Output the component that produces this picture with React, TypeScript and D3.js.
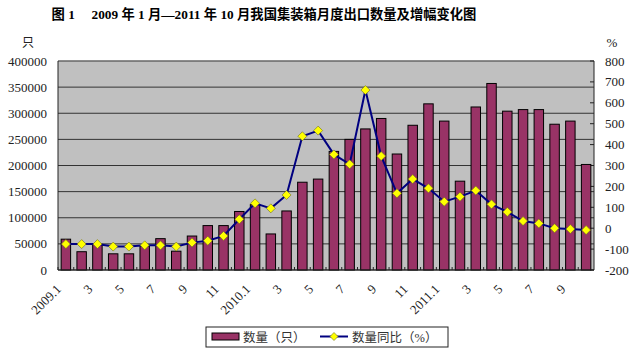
import React from "react";
import * as d3 from "d3";

const months: string[] = [
  "2009.1","2009.2","2009.3","2009.4","2009.5","2009.6","2009.7","2009.8","2009.9","2009.10","2009.11","2009.12",
  "2010.1","2010.2","2010.3","2010.4","2010.5","2010.6","2010.7","2010.8","2010.9","2010.10","2010.11","2010.12",
  "2011.1","2011.2","2011.3","2011.4","2011.5","2011.6","2011.7","2011.8","2011.9","2011.10",
];
const tickLabels: string[] = [
  "2009.1","","3","","5","","7","","9","","11","",
  "2010.1","","3","","5","","7","","9","","11","",
  "2011.1","","3","","5","","7","","9","",
];
const quantity: number[] = [
  59000, 35000, 49000, 31000, 31000, 46000, 60000, 36000, 65000, 85000, 85000, 112000,
  125000, 69000, 113000, 168000, 174000, 227000, 250000, 270000, 290000, 222000, 277000, 318000,
  285000, 170000, 312000, 357000, 304000, 307000, 307000, 279000, 285000, 202000,
];
const growth: number[] = [
  -76, -76, -76, -88, -88, -82, -82, -88, -69, -60, -37, 43,
  119, 95, 159, 440, 467, 353, 306, 661, 345, 167, 235, 191,
  127, 151, 180, 114, 78, 34, 23, 0, -4, -9,
];
const leftTicks: number[] = [0, 50000, 100000, 150000, 200000, 250000, 300000, 350000, 400000];
const rightTicks: number[] = [-200, -100, 0, 100, 200, 300, 400, 500, 600, 700, 800];

const W = 638, H = 353;
const L = 58, R = 594, T = 61, B = 270;
const serif = "'Liberation Serif', 'Times New Roman', 'Noto Sans CJK SC', serif";
const cjk = "'Liberation Serif', 'Noto Sans CJK SC', sans-serif";

export default function App() {
  const x = d3.scaleBand<string>().domain(months).range([L, R]).paddingInner(0.4).paddingOuter(0.2);
  const yL = d3.scaleLinear().domain([0, 400000]).range([B, T]);
  const yR = d3.scaleLinear().domain([-200, 800]).range([B, T]);
  const cx = (m: string) => (x(m) as number) + x.bandwidth() / 2;
  const step = x.step();
  const line = d3.line<number>().x((_, i) => cx(months[i])).y((d) => yR(d));
  const diamond = (px: number, py: number, r: number) =>
    `M${px},${py - r}L${px + r},${py}L${px},${py + r}L${px - r},${py}Z`;

  return (
    <svg width={W} height={H} style={{ position: "absolute", left: 0, top: 0, background: "#fff" }}>
      <text x={264} y={19} textAnchor="middle" fontFamily={cjk} fontWeight="bold" fontSize={13.3} fill="#000">
        图 1{"\u00a0\u00a0\u00a0\u00a0\u00a0"}2009 年 1 月—2011 年 10 月我国集装箱月度出口数量及增幅变化图
      </text>
      <text x={28} y={47} textAnchor="middle" fontFamily={cjk} fontSize={12} fill="#222">只</text>
      <text x={612} y={47} textAnchor="middle" fontFamily={serif} fontSize={13} fill="#222">%</text>

      <rect x={L} y={T} width={R - L} height={B - T} fill="#c0c0c0" />
      {leftTicks.map((t) => (
        <line key={"g" + t} x1={L} x2={R} y1={yL(t)} y2={yL(t)} stroke="#333" strokeWidth={1} />
      ))}
      <line x1={L} x2={R} y1={T} y2={T} stroke="#808080" strokeWidth={1} />
      {rightTicks.map((t) => (
        <line key={"rt" + t} x1={R - 4} x2={R} y1={yR(t)} y2={yR(t)} stroke="#222" strokeWidth={1} />
      ))}
      {months.map((m, i) => (
        <line key={"xt" + m} x1={L + i * step} x2={L + i * step} y1={B} y2={B - 3} stroke="#222" strokeWidth={1} />
      ))}

      {quantity.map((v, i) => (
        <rect
          key={"b" + i}
          x={x(months[i]) as number}
          y={yL(v)}
          width={x.bandwidth()}
          height={B - yL(v)}
          fill="#993366"
          stroke="#000"
          strokeWidth={1}
        />
      ))}

      <line x1={L} x2={L} y1={T} y2={B} stroke="#222" strokeWidth={1} />
      <line x1={R} x2={R} y1={T} y2={B} stroke="#222" strokeWidth={1} />
      <line x1={L} x2={R} y1={B} y2={B} stroke="#222" strokeWidth={1} />

      <path d={line(growth) || ""} fill="none" stroke="#000080" strokeWidth={2} />
      {growth.map((v, i) => (
        <path key={"m" + i} d={diamond(cx(months[i]), yR(v), 4.5)} fill="#ffff00" stroke="#6b6b20" strokeWidth={0.6} />
      ))}

      {leftTicks.map((t) => (
        <text key={"lt" + t} x={47} y={yL(t) + 4.5} textAnchor="end" fontFamily={serif} fontSize={13} fill="#222">
          {t}
        </text>
      ))}
      {rightTicks.map((t) => (
        <text key={"rl" + t} x={605} y={yR(t) + 4.5} textAnchor="start" fontFamily={serif} fontSize={13} fill="#222">
          {t}
        </text>
      ))}
      {tickLabels.map((lab, i) =>
        lab ? (
          <text
            key={"xl" + i}
            transform={`translate(${cx(months[i]) - 4},${B + 20}) rotate(-45)`}
            textAnchor="end"
            fontFamily={serif}
            fontSize={13}
            fill="#222"
          >
            {lab}
          </text>
        ) : null
      )}

      <rect x={206} y={327} width={242} height={20} fill="#fff" stroke="#222" strokeWidth={1} />
      <rect x={212} y={333} width={27} height={7} fill="#993366" stroke="#000" strokeWidth={1} />
      <text x={243} y={341.5} fontFamily={cjk} fontSize={12.5} fill="#333">数量（只）</text>
      <line x1={320} x2={348} y1={336.5} y2={336.5} stroke="#000080" strokeWidth={2} />
      <path d={diamond(334, 336.5, 4)} fill="#ffff00" stroke="#6b6b20" strokeWidth={0.6} />
      <text x={352} y={341.5} fontFamily={cjk} fontSize={12.5} fill="#333">数量同比（%）</text>
    </svg>
  );
}
